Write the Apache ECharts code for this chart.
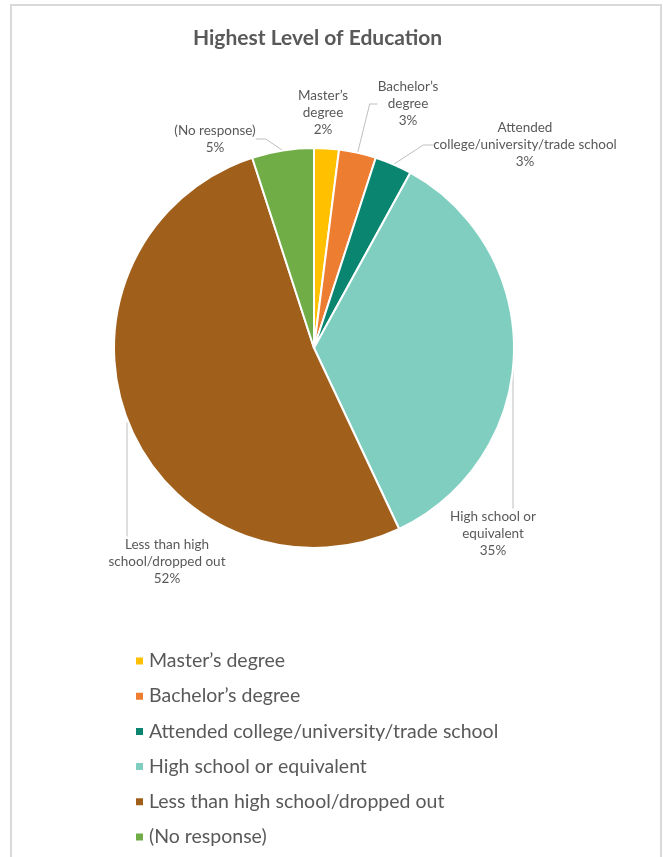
<!DOCTYPE html>
<html>
<head>
<meta charset="utf-8">
<script src="https://cdn.jsdelivr.net/npm/echarts@6/dist/echarts.min.js"></script>
<style>
  html, body { margin: 0; padding: 0; background: #ffffff; }
  #chart { width: 663px; height: 857px; }
</style>
</head>
<body>
<div id="chart"></div>
<script>
// Education categories, share of respondents (%), and slice colours
const categories = [
  "Master\u2019s degree",
  "Bachelor\u2019s degree",
  "Attended college/university/trade school",
  "High school or equivalent",
  "Less than high school/dropped out",
  "(No response)"
];
const shares = [2, 3, 3, 35, 52, 5];
const sliceColors = ["#FFC000", "#ED7D31", "#0A8670", "#7FCEC0", "#A0601C", "#70AD47"];

// Wrapped label text for the outside labels
const labelText = [
  "Master\u2019s\ndegree",
  "Bachelor\u2019s\ndegree",
  "Attended\ncollege/university/trade school",
  "High school or\nequivalent",
  "Less than high\nschool/dropped out",
  "(No response)"
];
// Centre of each label's text block (px)
const labelSpots = [
  [323, 113], [408, 104], [525, 145], [493, 534], [167, 562], [215, 139]
];
// Label padding [top, right, bottom, left]; shifts where the leader line attaches
const labelPad = [
  [0, 0, 0, 0], [0, 0, 42, 0], [0, 0, 0, 0], [0, 40, 0, 0], [0, 0, 0, 80], [0, 0, 0, 0]
];
// Second leader segment length per slice
const leaderLen2 = [0, 8, 10, 143, 114, 10];

const FONT = "Lato, 'Open Sans', sans-serif";
const TEXT = "#595959";

const chart = echarts.init(document.getElementById("chart"), null, { renderer: "canvas" });

chart.setOption({
  animation: false,
  backgroundColor: "#ffffff",
  graphic: [{
    type: "rect",
    shape: { x: 11, y: 5, width: 650, height: 870 },
    style: { fill: "none", stroke: "#d9d9d9", lineWidth: 2 },
    silent: true
  }],
  title: {
    text: "Highest Level of Education",
    left: 188,
    top: 23,
    textStyle: { fontFamily: FONT, fontSize: 21, fontWeight: "bold", color: TEXT }
  },
  legend: {
    orient: "vertical",
    left: 134,
    top: 650,
    padding: 0,
    itemWidth: 9,
    itemHeight: 9,
    itemGap: 13.2,
    icon: "rect",
    data: categories,
    textStyle: { fontFamily: FONT, fontSize: 19.5, color: TEXT, lineHeight: 22 }
  },
  series: [{
    type: "pie",
    center: [314, 348],
    radius: 200,
    startAngle: 90,
    clockwise: true,
    avoidLabelOverlap: false,
    itemStyle: { borderColor: "#ffffff", borderWidth: 2 },
    label: {
      show: true,
      position: "outside",
      fontFamily: FONT,
      fontSize: 13.5,
      lineHeight: 17,
      color: TEXT,
      align: "center",
      formatter: p => labelText[p.dataIndex] + "\n" + p.value + "%"
    },
    labelLine: {
      show: true,
      length: 15,
      length2: 10,
      lineStyle: { color: "#BFBFBF", width: 1 }
    },
    labelLayout: function (params) {
      const i = params.dataIndex;
      const s = labelSpots[i];
      const p = labelPad[i];
      return {
        x: s[0] + (p[1] - p[3]) / 2,
        y: s[1],
        align: "center",
        verticalAlign: "middle"
      };
    },
    data: categories.map((name, i) => ({
      name: name,
      value: shares[i],
      itemStyle: { color: sliceColors[i] },
      label: { padding: labelPad[i] },
      labelLine: { show: i !== 0, length2: leaderLen2[i] }
    }))
  }]
});
</script>
</body>
</html>
